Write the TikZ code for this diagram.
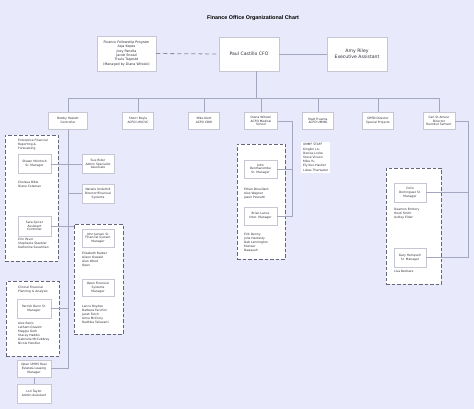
\documentclass[tikz,border=0pt]{standalone}
\usepackage{fontspec}
\setmainfont{DejaVu Sans}
\newfontfamily\titlefont{Liberation Sans}
\usetikzlibrary{calc}
\definecolor{bg}{HTML}{E8E9FA}
\definecolor{ln}{HTML}{A4A7C0}
\definecolor{bx}{HTML}{C6C7D2}
\definecolor{dsh}{HTML}{66667A}
\definecolor{tx}{HTML}{2E2E3A}
\tikzset{
  card/.style={draw=bx, fill=white, line width=0.5pt, align=center, inner sep=0pt, text=tx, font=\fontsize{3.0}{3.8}\selectfont},
  bigcard/.style={card, minimum width=60pt, minimum height=34pt, font=\fontsize{4.6}{5.6}\selectfont},
  rowcard/.style={card, minimum height=17pt, minimum width=31pt},
  subcard/.style={card, minimum width=33pt, minimum height=19pt},
  grp/.style={draw=dsh, fill=white, dash pattern=on 3.5pt off 2pt, line width=0.8pt, inner sep=0pt},
  lst/.style={anchor=north west, align=left, inner sep=0pt, text=tx, font=\fontsize{3.0}{4}\selectfont},
  conn/.style={draw=ln, line width=0.5pt},
  fdash/.style={draw=dsh!75, dash pattern=on 4pt off 3pt, line width=0.8pt},
}
\begin{document}
\begin{tikzpicture}[x=1pt,y=-1pt]
\fill[bg] (0,0) rectangle (474,409);
\useasboundingbox (0,0) rectangle (474,409);

% title
\node[font=\titlefont\bfseries\fontsize{5.4}{6}\selectfont, text=black] (title) at (253,18) {Finance Office Organizational Chart};

% top level
\node[card, minimum width=59pt, minimum height=35pt, font=\fontsize{3.3}{4.3}\selectfont] (fellow) at (126.5,53.5)
  {Finance Fellowship Program\\Asja Kepes\\Joey Panella\\Jacob Snead\\Travis Tagestd\\(Managed by Diana Witoski)};
\node[bigcard] (paul) at (249,54) {Paul Castillo CFO};
\node[bigcard] (amy) at (357,54) {Amy Riley\\Executive Assistant};

% second row
\node[rowcard, minimum width=39pt] (bobby) at (68,120.5) {Bobby Haslett\\Controller};
\node[rowcard] (sherri) at (138,120.5) {Sherri Boyle\\ACFO UH/CVC};
\node[rowcard] (mike) at (204,120.5) {Mike Klett\\ACFO CBIR};
\node[rowcard, minimum width=33pt] (diana) at (261,121) {Diana Witoski\\ACFO Medical\\School};
\node[rowcard] (matt) at (318,121) {Matt Fruenta\\ACFO UMMG};
\node[rowcard] (opendir) at (378,121) {OPEN Director\\Special Projects};
\node[rowcard, minimum width=32pt] (carl) at (439,121) {Carl St.Amour\\Director\\Reimbur Sement};

% group boxes
\node[grp, minimum width=53pt, minimum height=126pt] (g1) at (31.5,198) {};
\node[grp, minimum width=53pt, minimum height=75pt] (g2) at (32.5,318.5) {};
\node[grp, minimum width=49pt, minimum height=110pt] (g3) at (98.5,279) {};
\node[grp, minimum width=48pt, minimum height=115pt] (g4) at (261,201.5) {};
\node[grp, minimum width=55pt, minimum height=116pt] (g5) at (413.5,226) {};

% Enterprise group
\node[lst] (efr) at (18,139) {Enterprise Financial\\Reporting \&\\Forecasting};
\node[subcard] (shawn) at (34.5,164) {Shawn Mcintosh\\Sr. Manager};
\node[lst] (chelsea) at (18,181) {Chelsea Bible\\Diane Coleman};
\node[subcard, minimum height=20pt] (sara) at (34.5,226) {Sara Spicer\\Assistant\\Controller};
\node[lst] (erin) at (18,238) {Erin Pavor\\Stephanie Staebler\\Katherine Sevahrian};

% Clinical group
\node[lst] (cfpa) at (18,286) {Clinical Financial\\Planning \& Analysis};
\node[subcard, minimum width=34pt] (patrick) at (34,308.5) {Patrick Dunn Sr.\\Manager};
\node[lst] (alex) at (18,322) {Alex Renis\\Latham Gravett\\Maggie Guth\\Stacey Haddix\\Gabrielle McCubbrey\\Nicole Hendler};

\node[card, minimum width=34pt, minimum height=17pt] (openre) at (34,368.5) {Open UMHS Real\\Estate\& Leasing\\Manager};
\node[subcard, minimum width=34pt] (lori) at (34,393.5) {Lori Taylor\\Admin Assistant};

% middle-left column
\node[subcard, minimum width=32pt] (sue) at (98,164) {Sue Rider\\Admin Specialist\\Associate};
\node[subcard, minimum width=32pt] (natalie) at (98,193.5) {Natalie Underhill\\Director/Financial\\Systems};
\node[subcard, minimum width=32pt, minimum height=18pt] (jjensen) at (98,238) {John Jensen Sr.\\Financial System\\Manager};
\node[lst] (eliz) at (82,252) {Elizabeth Barber\\Alison Oswald\\Alan Wood\\Open};
\node[card, minimum width=32pt, minimum height=17pt] (openfs) at (98,287.5) {Open Financial\\Systems\\Manager};
\node[lst] (lance) at (82,305) {Lance Boyden\\Barbara Facchini\\Janet Futch\\Anne McCrory\\Radhika Tallavarti};

% Diana group
\node[subcard, minimum height=18pt] (jben) at (260.5,169) {John\\Benmacombe\\Sr. Manager};
\node[lst] (ethan) at (244,188) {Ethan Drouillard\\Alex Wagner\\Jason Pesnetti};
\node[subcard, minimum height=18pt] (brian) at (260.5,216) {Brian Lance\\Inter. Manager};
\node[lst] (erik) at (244,233) {Erik Denny\\Julia Hardesty\\Deb Lennington\\Muneer\\Bawayeh};

% UMMF staff
\node[lst, fill=white, inner sep=2pt, font=\fontsize{3.0}{4.2}\selectfont] (ummf) at (301,141.5) {UMMF STAFF\\Kingkin Liu\\Denise Locke\\Steve Vinson\\Mike Yu\\Ely Kuo-Hasher\\Lukas Tharwater};

% Carl group
\node[subcard, minimum width=32pt] (colin) at (410,192.5) {Colin\\Dominguez Sr.\\Manager};
\node[lst] (deamon) at (394,208) {Deamon Embory\\Heidi Smith\\Ashley Elder};
\node[subcard, minimum width=32pt] (gary) at (410,257.5) {Gary Hempuch\\Sr. Manager};
\node[lst] (lisa) at (394,270) {Lisa Bednarz};

% connectors
\coordinate (busy) at (0,98);
\coordinate (dv) at (292,0);
\coordinate (cv) at (468,0);
\draw[fdash] (fellow.east) -- (paul.west);
\draw[conn] (paul.east) -- (amy.west);
\draw[conn] ([xshift=7pt]paul.south) -- ([xshift=7pt]paul.south |- busy);
\draw[conn] (bobby.north |- busy) -- (carl.north |- busy);
\foreach \n in {bobby,sherri,mike,diana,matt,opendir,carl}
  \draw[conn] (\n.north) -- (\n.north |- busy);

\draw[conn] (bobby.south) -- (bobby.south |- openre.east);
\draw[conn] (shawn.east) -- (sue.west);
\draw[conn] (natalie.west) -- (natalie.west -| bobby.south);
\draw[conn] (sara.east) -- (sara.east -| g3.west);
\draw[conn] (patrick.east) -- (patrick.east -| bobby.south);
\draw[conn] (openre.east) -- (openre.east -| bobby.south);
\draw[conn] (openre.south) -- (lori.north);

\draw[conn] (diana.east) -- (diana.east -| dv) -- (brian.east -| dv) -- (brian.east);
\draw[conn] (jben.east) -- (jben.east -| dv);

\draw[conn] (carl.east) -- (carl.east -| cv) -- (gary.east -| cv) -- (gary.east);
\draw[conn] (colin.east) -- (colin.east -| cv);
\end{tikzpicture}
\end{document}
